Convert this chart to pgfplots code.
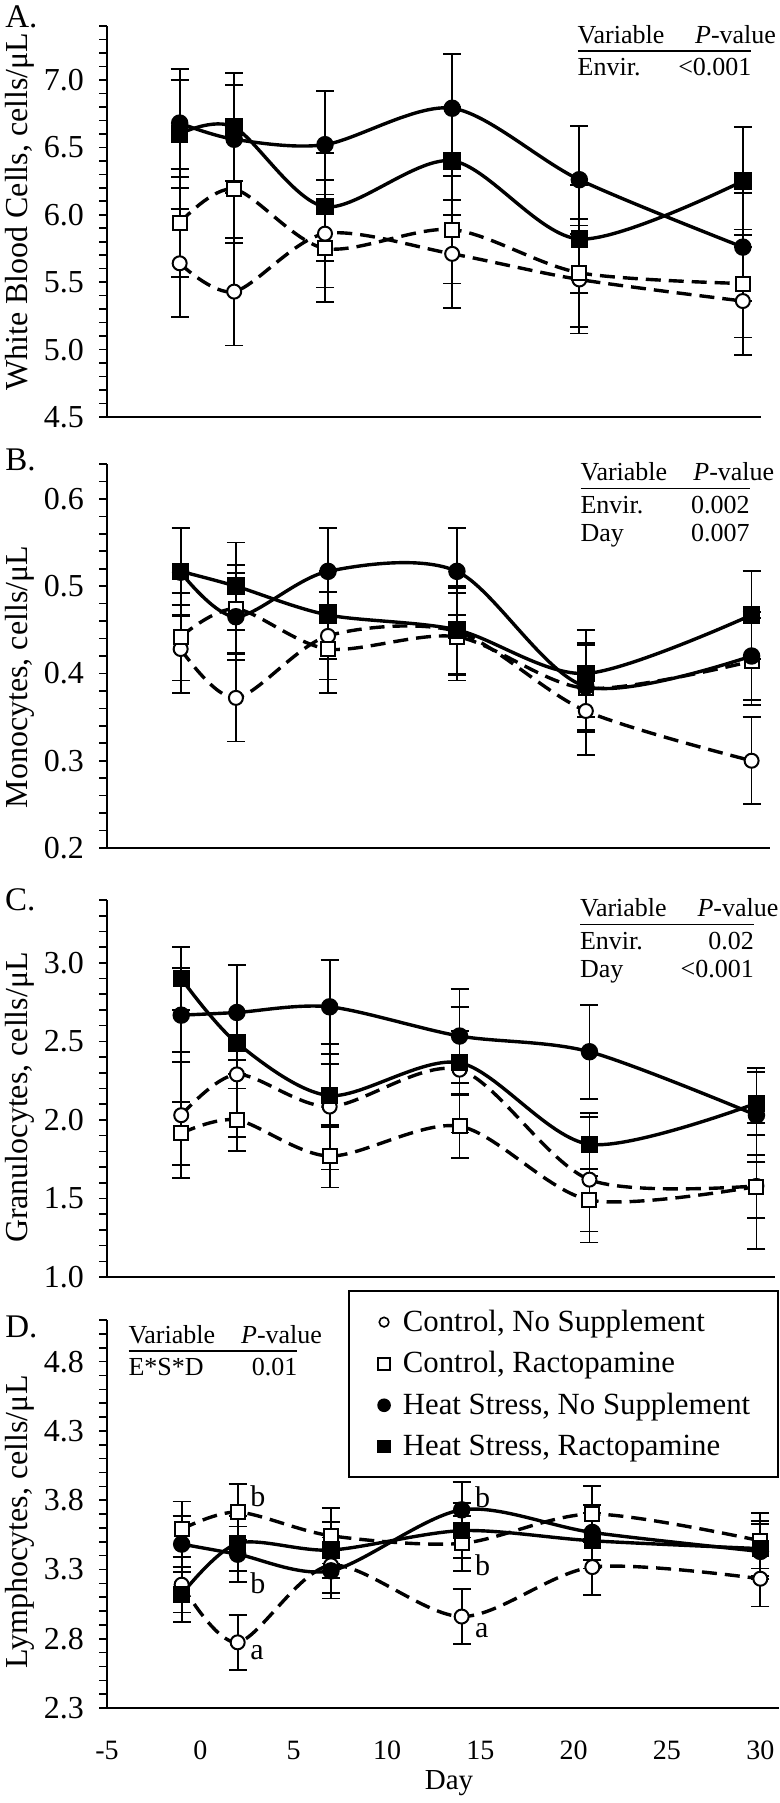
\documentclass[border=0pt]{standalone}
\usepackage{pgfplots}
\pgfplotsset{compat=1.18}
\usepackage{fontspec}
\setmainfont{Liberation Serif}
\setlength\arrayrulewidth{0.75pt}
\newcommand{\ptab}[2][7pt]{\fontsize{13pt}{14pt}\selectfont\begin{tabular}{@{}l@{\hspace{#1}}r@{}}Variable & \textit{P}-val\rlap{ue}\\[-0.7pt]\hline\noalign{\vskip 2pt} #2\end{tabular}}
\tikzset{plabel/.style={anchor=base west, inner sep=0pt, font=\fontsize{16.5pt}{20pt}\selectfont}}
\pgfplotsset{
  panel/.style={
    scale only axis, clip=false, xmin=-5, xmax=31,
    axis x line*=bottom, axis y line*=left,
    axis line style={line width=0.8pt},
    tick align=outside, major tick length=4pt, minor tick length=4pt,
    every tick/.append style={black, line width=0.8pt},
    xtick=\empty,
    yticklabel style={font=\fontsize{16pt}{19pt}\selectfont, xshift=-4pt},
    xticklabel style={font=\fontsize{14pt}{17pt}\selectfont},
    ylabel style={anchor=north, inner sep=0pt, font=\fontsize{16pt}{19pt}\selectfont},
    xlabel style={font=\fontsize{14.5pt}{17pt}\selectfont},
  },
  ser/.style={black, smooth, line width=1.7pt,
    /pgfplots/error bars/y dir=both, /pgfplots/error bars/y explicit,
    /pgfplots/error bars/error bar style={solid, line width=0.9pt},
    /pgfplots/error bars/error mark options={rotate=90, mark size=4.5pt, line width=0.9pt, solid, black}},
  cn/.style={ser, dash pattern=on 7.5pt off 4pt, mark=*, mark size=3.5pt, mark options={solid, fill=white, line width=1pt}},
  cr/.style={ser, dash pattern=on 7.5pt off 4pt, mark=square*, mark size=3.5pt, mark options={solid, fill=white, line width=1pt}},
  hn/.style={ser, mark=*, mark size=3.5pt, mark options={solid, fill=black}},
  hr/.style={ser, mark=square*, mark size=3.5pt, mark options={solid, fill=black}},
}
\begin{document}
\begin{tikzpicture}
\useasboundingbox (0,0) rectangle (390pt,-901.5pt);
% ---------------- A
\begin{axis}[panel, at={(53.5pt,-208.5pt)}, anchor=south west,
  width=327pt, height=195.5pt, ymin=4.5, ymax=7.4,
  ytick={4.5,5.0,5.5,6.0,6.5,7.0}, yticklabels={4.5,5.0,5.5,6.0,6.5,7.0},
  minor ytick={4.6,4.7,4.8,4.9,5.1,5.2,5.3,5.4,5.6,5.7,5.8,5.9,6.1,6.2,6.3,6.4,6.6,6.7,6.8,6.9,7.1,7.2,7.3,7.4},
  ylabel={White Blood Cells, cells/μL},
  ylabel style={at={(axis description cs:-0.156,0.525)}}]
\addplot[cn] coordinates {(-1,5.64) +- (0,0.40) (2,5.43) +- (0,0.40) (7,5.86) +- (0,0.40) (14,5.71) +- (0,0.40) (21,5.52) +- (0,0.40) (30,5.36) +- (0,0.40)};
\addplot[cr] coordinates {(-1,5.94) +- (0,0.40) (2,6.19) +- (0,0.40) (7,5.75) +- (0,0.40) (14,5.89) +- (0,0.40) (21,5.57) +- (0,0.40) (30,5.49) +- (0,0.40)};
\addplot[hn] coordinates {(-1,6.68) +- (0,0.40) (2,6.56) +- (0,0.40) (7,6.52) +- (0,0.40) (14,6.79) +- (0,0.40) (21,6.26) +- (0,0.40) (30,5.76) +- (0,0.40)};
\addplot[hr] coordinates {(-1,6.60) +- (0,0.40) (2,6.65) +- (0,0.40) (7,6.06) +- (0,0.40) (14,6.40) +- (0,0.40) (21,5.82) +- (0,0.40) (30,6.25) +- (0,0.40)};
\node[plabel] at (axis description cs:-0.156,0.995) {A.};
\node[anchor=north east, inner sep=0pt] at (axis description cs:0.986,1.007) {\ptab{Envir. & <0.001}};
\end{axis}
% ---------------- B
\begin{axis}[panel, at={(53.5pt,-424pt)}, anchor=south west,
  width=331.5pt, height=192pt, ymin=0.2, ymax=0.64,
  ytick={0.2,0.3,0.4,0.5,0.6}, yticklabels={0.2,0.3,0.4,0.5,0.6},
  minor ytick={0.22,0.24,0.26,0.28,0.32,0.34,0.36,0.38,0.42,0.44,0.46,0.48,0.52,0.54,0.56,0.58,0.62,0.64},
  ylabel={Monocytes, cells/μL},
  ylabel style={at={(axis description cs:-0.154,0.445)}}]
\addplot[cn] coordinates {(-1,0.428) +- (0,0.05) (2,0.372) +- (0,0.05) (7,0.443) +- (0,0.05) (14,0.448) +- (0,0.05) (21,0.357) +- (0,0.05) (30,0.300) +- (0,0.05)};
\addplot[cr] coordinates {(-1,0.442) +- (0,0.05) (2,0.474) +- (0,0.05) (7,0.428) +- (0,0.05) (14,0.442) +- (0,0.05) (21,0.383) +- (0,0.05) (30,0.414) +- (0,0.05)};
\addplot[hn] coordinates {(-1,0.516) +- (0,0.05) (2,0.465) +- (0,0.05) (7,0.517) +- (0,0.05) (14,0.517) +- (0,0.05) (21,0.385) +- (0,0.05) (30,0.420) +- (0,0.05)};
\addplot[hr] coordinates {(-1,0.517) +- (0,0.05) (2,0.500) +- (0,0.05) (7,0.467) +- (0,0.05) (14,0.450) +- (0,0.05) (21,0.400) +- (0,0.05) (30,0.467) +- (0,0.05)};
\node[plabel] at (axis description cs:-0.154,0.982) {B.};
\node[anchor=north east, inner sep=0pt] at (axis description cs:0.970,1.008) {\ptab[12pt]{Envir. & 0.002\\ Day & 0.007}};
\end{axis}
% ---------------- C
\begin{axis}[panel, at={(53.5pt,-638.5pt)}, anchor=south west,
  width=334pt, height=188.5pt, ymin=1.0, ymax=3.4,
  ytick={1.0,1.5,2.0,2.5,3.0}, yticklabels={1.0,1.5,2.0,2.5,3.0},
  minor ytick={1.1,1.2,1.3,1.4,1.6,1.7,1.8,1.9,2.1,2.2,2.3,2.4,2.6,2.7,2.8,2.9,3.1,3.2,3.3,3.4},
  ylabel={Granulocytes, cells/μL},
  ylabel style={at={(axis description cs:-0.153,0.476)}}]
\addplot[cn] coordinates {(-1,2.03) +- (0,0.40) (2,2.29) +- (0,0.40) (7,2.085) +- (0,0.40) (14,2.32) +- (0,0.40) (21,1.62) +- (0,0.40) (30,1.58) +- (0,0.40)};
\addplot[cr] coordinates {(-1,1.915) +- (0,0.20) (2,2.00) +- (0,0.20) (7,1.77) +- (0,0.20) (14,1.96) +- (0,0.20) (21,1.49) +- (0,0.20) (30,1.576) +- (0,0.20)};
\addplot[hn] coordinates {(-1,2.667) +- (0,0.30) (2,2.684) +- (0,0.30) (7,2.72) +- (0,0.30) (14,2.534) +- (0,0.30) (21,2.434) +- (0,0.30) (30,2.03) +- (0,0.30)};
\addplot[hr] coordinates {(-1,2.90) +- (0,0.20) (2,2.49) +- (0,0.20) (7,2.155) +- (0,0.20) (14,2.364) +- (0,0.20) (21,1.845) +- (0,0.20) (30,2.106) +- (0,0.20)};
\node[plabel] at (axis description cs:-0.153,0.973) {C.};
\node[anchor=north east, inner sep=0pt] at (axis description cs:0.969,1.008) {\ptab{Envir. & 0.02\\ Day & <0.001}};
\end{axis}
% ---------------- D
\begin{axis}[panel, at={(53.5pt,-854pt)}, anchor=south west,
  width=336pt, height=194pt, ymin=2.3, ymax=5.1,
  ytick={2.3,2.8,3.3,3.8,4.3,4.8}, yticklabels={2.3,2.8,3.3,3.8,4.3,4.8},
  minor ytick={2.4,2.5,2.6,2.7,2.9,3.0,3.1,3.2,3.4,3.5,3.6,3.7,3.9,4.0,4.1,4.2,4.4,4.5,4.6,4.7,4.9,5.0,5.1},
  xtick={-5,0,5,10,15,20,25,30}, xticklabels={-5,0,5,10,15,20,25,30},
  xtick style={draw=none}, xticklabel style={yshift=-9pt},
  xlabel={Day}, xlabel style={at={(axis description cs:0.509,0)}, anchor=center, yshift=-37.5pt},
  ylabel={Lymphocytes, cells/μL},
  ylabel style={at={(axis description cs:-0.152,0.48)}},
  legend image code/.code={\path (-5pt,0pt) (7pt,0pt); \draw[#1] plot coordinates {(0pt,0pt)};},
  legend style={at={(axis description cs:1.0,1.077)}, anchor=north east, draw=black, line width=0.8pt, fill=white,
    font=\fontsize{15.4pt}{18pt}\selectfont, inner xsep=12pt, inner ysep=7.5pt, row sep=4.6pt, cells={anchor=west}}]
\addlegendimage{only marks, mark=o, mark size=2.4pt, black, line width=0.8pt}
\addlegendentry{Control, No Supplement}
\addlegendimage{only marks, mark=square, mark size=3pt, black, line width=0.8pt}
\addlegendentry{Control, Ractopamine}
\addlegendimage{only marks, mark=*, mark size=3pt, black}
\addlegendentry{Heat Stress, No Supplement}
\addlegendimage{only marks, mark=square*, mark size=3pt, black}
\addlegendentry{Heat Stress, Ractopamine}
\addplot[cn, forget plot] coordinates {(-1,3.19) +- (0,0.2) (2,2.774) +- (0,0.2) (7,3.33) +- (0,0.2) (14,2.96) +- (0,0.2) (21,3.317) +- (0,0.2) (30,3.233) +- (0,0.2)};
\addplot[cr, forget plot] coordinates {(-1,3.59) +- (0,0.2) (2,3.714) +- (0,0.2) (7,3.543) +- (0,0.2) (14,3.488) +- (0,0.2) (21,3.70) +- (0,0.2) (30,3.507) +- (0,0.2)};
\addplot[hn, forget plot] coordinates {(-1,3.483) +- (0,0.2) (2,3.41) +- (0,0.2) (7,3.29) +- (0,0.2) (14,3.73) +- (0,0.2) (21,3.567) +- (0,0.2) (30,3.43) +- (0,0.2)};
\addplot[hr, forget plot] coordinates {(-1,3.12) +- (0,0.2) (2,3.488) +- (0,0.2) (7,3.44) +- (0,0.2) (14,3.58) +- (0,0.2) (21,3.507) +- (0,0.2) (30,3.45) +- (0,0.2)};
\node[plabel] at (axis description cs:-0.152,0.954) {D.};
\node[anchor=north east, inner sep=0pt] at (axis description cs:0.284,0.992) {\ptab[13pt]{E*S*D & 0.01}};
\begin{scope}[every node/.style={font=\fontsize{15pt}{18pt}\selectfont, inner sep=0pt, anchor=west}]
\node at (axis cs:2.66,3.83) {b};
\node at (axis cs:2.66,3.20) {b};
\node at (axis cs:2.66,2.70) {a};
\node at (axis cs:14.7,3.82) {b};
\node at (axis cs:14.7,3.33) {b};
\node at (axis cs:14.7,2.86) {a};
\end{scope}
\end{axis}
\end{tikzpicture}
\end{document}
